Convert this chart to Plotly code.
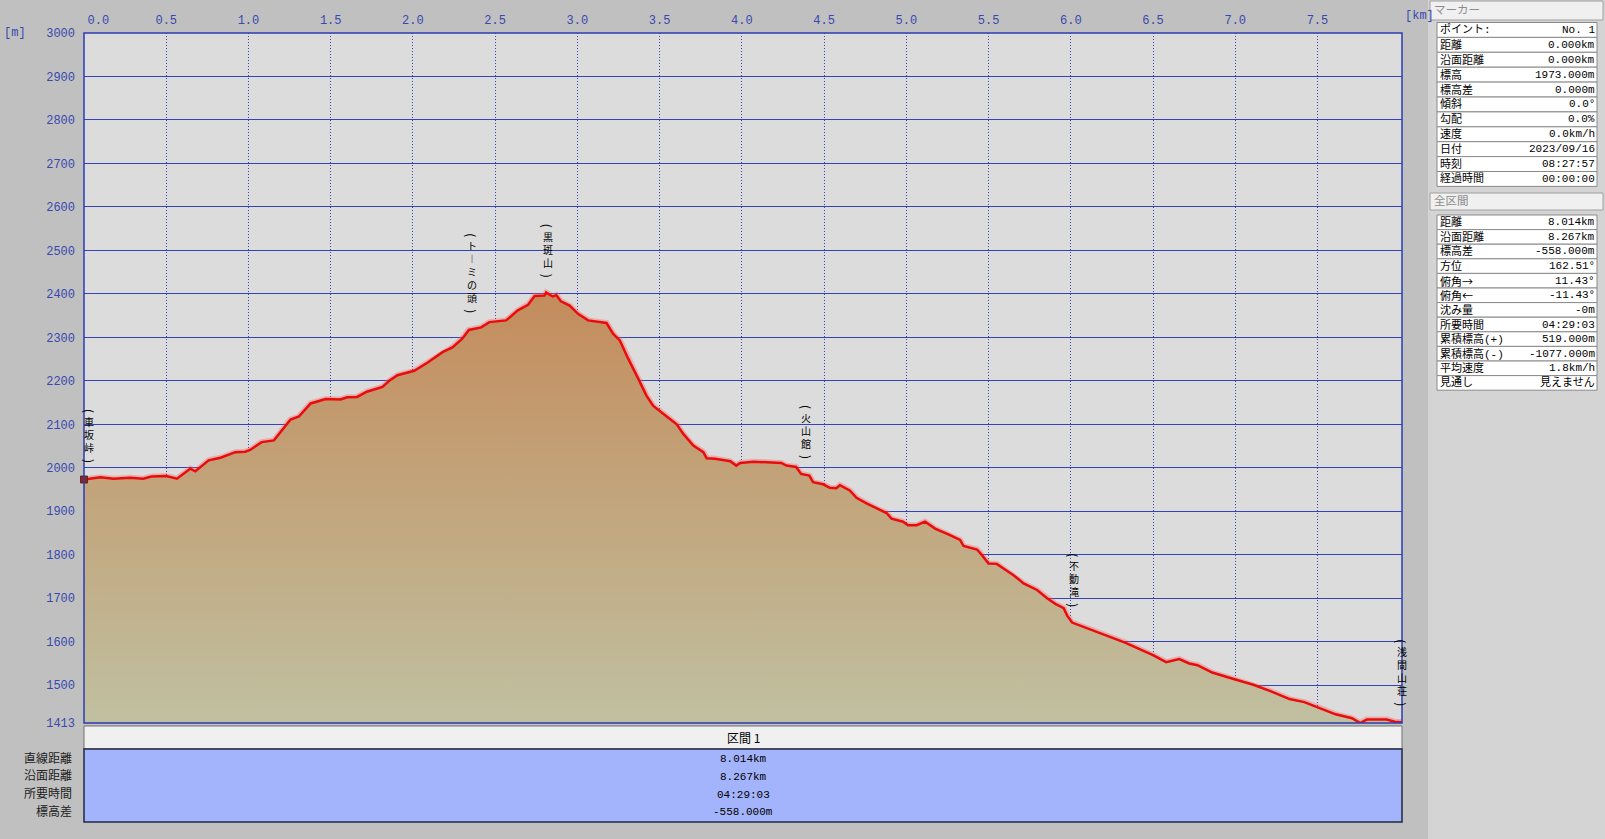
"""
Elevation profile chart (車坂峠 -> 浅間山荘) with the marker / section info panels.
"""

import plotly.graph_objects as go

# ---- data ----
dist_km = [
    0.0, 0.1, 0.18, 0.28, 0.36, 0.41, 0.5, 0.565, 0.646, 0.677, 0.758, 0.83, 0.92, 0.98,
    1.01, 1.08, 1.155, 1.256, 1.307, 1.378, 1.47, 1.56, 1.6, 1.66, 1.72, 1.815, 1.856,
    1.906, 2.008, 2.09, 2.18, 2.24, 2.30, 2.34, 2.415, 2.465, 2.567, 2.638, 2.70, 2.74,
    2.80, 2.81, 2.85, 2.872, 2.90, 2.953, 3.004, 3.065, 3.177, 3.218, 3.258, 3.309, 3.37,
    3.42, 3.46, 3.50, 3.543, 3.604, 3.644, 3.705, 3.766, 3.786, 3.837, 3.93, 3.966, 3.99,
    4.07, 4.24, 4.27, 4.33, 4.36, 4.41, 4.433, 4.494, 4.535, 4.575, 4.596, 4.656, 4.697,
    4.758, 4.82, 4.88, 4.91, 4.98, 5.01, 5.063, 5.114, 5.175, 5.266, 5.327, 5.348, 5.43,
    5.46, 5.50, 5.55, 5.652, 5.713, 5.795, 5.856, 5.906, 5.957, 5.978, 6.008, 6.08, 6.14,
    6.242, 6.33, 6.5, 6.58, 6.66, 6.72, 6.77, 6.86, 7.0, 7.11, 7.21, 7.33, 7.42, 7.52,
    7.61, 7.71, 7.76, 7.80, 7.92, 7.97, 8.014,
]
elev_m = [
    1973, 1978, 1975, 1977, 1975, 1980, 1981, 1975, 1998, 1992, 2017, 2023, 2036, 2037,
    2041, 2059, 2063, 2111, 2118, 2148, 2158, 2157, 2162, 2163, 2175, 2186, 2200,
    2213, 2223, 2242, 2266, 2277, 2297, 2317, 2323, 2335, 2339, 2362, 2375, 2395,
    2396, 2403, 2394, 2397, 2383, 2373, 2354, 2339, 2333, 2308, 2293, 2251, 2205,
    2166, 2143, 2130, 2118, 2100, 2078, 2051, 2036, 2022, 2021, 2015, 2005, 2011,
    2014, 2011, 2005, 2002, 1986, 1982, 1967, 1962, 1954, 1953, 1960, 1948, 1931,
    1918, 1906, 1896, 1883, 1876, 1868, 1868, 1876, 1860, 1845, 1834, 1820, 1812,
    1799, 1780, 1779, 1753, 1734, 1719, 1700, 1687, 1677, 1660, 1644, 1634, 1626,
    1612, 1598, 1569, 1553, 1560, 1550, 1546, 1529, 1513, 1501, 1487, 1468, 1461, 1447,
    1433, 1424, 1413, 1421, 1421, 1416, 1415,
]

waypoint_names = ["車坂峠", "トーミの頭", "黒斑山", "火山館", "不動滝", "浅間山荘"]
waypoint_km = [0.03, 2.36, 2.82, 4.39, 6.02, 8.014]

x_tick_vals = [0.0, 0.5, 1.0, 1.5, 2.0, 2.5, 3.0, 3.5, 4.0, 4.5, 5.0, 5.5, 6.0, 6.5, 7.0, 7.5]
y_tick_vals = [1413, 1500, 1600, 1700, 1800, 1900, 2000, 2100, 2200, 2300, 2400,
               2500, 2600, 2700, 2800, 2900, 3000]

section_title = "区間 1"
section_labels = ["直線距離", "沿面距離", "所要時間", "標高差"]
section_values = ["8.014km", "8.267km", "04:29:03", "-558.000m"]

marker_title = "マーカー"
marker_labels = ["ポイント:", "距離", "沿面距離", "標高", "標高差", "傾斜", "勾配",
                 "速度", "日付", "時刻", "経過時間"]
marker_values = ["No. 1", "0.000km", "0.000km", "1973.000m", "0.000m", "0.0°", "0.0%",
                 "0.0km/h", "2023/09/16", "08:27:57", "00:00:00"]

total_title = "全区間"
total_labels = ["距離", "沿面距離", "標高差", "方位", "俯角→", "俯角←", "沈み量",
                "所要時間", "累積標高(+)", "累積標高(-)", "平均速度", "見通し"]
total_values = ["8.014km", "8.267km", "-558.000m", "162.51°", "11.43°", "-11.43°", "-0m",
                "04:29:03", "519.000m", "-1077.000m", "1.8km/h", "見えません"]

# ---- geometry (pixels of the 1605x839 page) ----
W, H = 1605, 839
PL, PR, PT, PB = 84, 1402, 33, 723

JP = "Noto Sans CJK JP"
MONO = "Liberation Mono, Noto Sans CJK JP"
BLUE_TXT = "#3848b0"
GRID = "#3444b8"
LABEL_SIZE = 10


def px(x):
    return x / W


def py(y):
    return 1 - y / H


def interp(xs, ys, x):
    for i in range(1, len(xs)):
        if x <= xs[i]:
            t = (x - xs[i - 1]) / (xs[i] - xs[i - 1])
            return ys[i - 1] + t * (ys[i] - ys[i - 1])
    return ys[-1]


def wide_arrows(s):
    # arrows from the CJK font are full width, like the original panel
    for a in "→←":
        s = s.replace(a, f"<span style='font-family:{JP}'>{a}</span>")
    return s


fig = go.Figure()

# glow under the red line
fig.add_trace(go.Scatter(
    x=dist_km, y=elev_m, mode='lines',
    line=dict(color='rgba(255,90,90,0.35)', width=6),
    hoverinfo='skip', showlegend=False
))
fig.add_trace(go.Scatter(
    x=dist_km, y=elev_m, mode='lines',
    line=dict(color='#ea0c0c', width=2.5),
    fill='tozeroy',
    fillgradient=dict(type='vertical',
                      colorscale=[[0, '#c0c0a0'], [1, '#c48c5c']],
                      start=1413, stop=2400),
    hovertemplate='%{x:.3f}km<br>%{y:.0f}m<extra></extra>',
    showlegend=False
))
# hiker marker at the start point
fig.add_trace(go.Scatter(
    x=[dist_km[0]], y=[elev_m[0]], mode='markers',
    marker=dict(size=7, color='#9a1c1c', symbol='square', line=dict(color='#503020', width=1)),
    cliponaxis=False, hoverinfo='skip', showlegend=False
))

x_tick_text = [f"{v:.1f}" for v in x_tick_vals]
x_tick_text[0] = "\u00a0\u00a0\u00a0\u00a0" + x_tick_text[0]

shapes = []
annotations = []

# right panel background
shapes.append(dict(type='rect', xref='paper', yref='paper', x0=px(1428), x1=1, y0=0, y1=1,
                   fillcolor='#d4d4d4', line=dict(width=0), layer='below'))
# plot frame
shapes.append(dict(type='rect', xref='paper', yref='paper', x0=px(PL), x1=px(PR), y0=py(PB), y1=py(PT),
                   line=dict(color='#2c3cb0', width=1.5), fillcolor='rgba(0,0,0,0)'))

# axis unit labels
annotations.append(dict(text="[m]", x=px(2), y=py(33), xref='paper', yref='paper', xanchor='left',
                        yanchor='middle', showarrow=False, font=dict(family=MONO, size=12, color=BLUE_TXT)))
annotations.append(dict(text="[km]", x=px(1403), y=py(16), xref='paper', yref='paper', xanchor='left',
                        yanchor='middle', showarrow=False, font=dict(family=MONO, size=12, color=BLUE_TXT)))

# vertical waypoint labels: the name as one stacked block, rotated brackets above and below
for name, km in zip(waypoint_names, waypoint_km):
    base = interp(dist_km, elev_m, min(km, dist_km[-1]))
    chars = [("︱" if c == "ー" else c) for c in name]
    block_h = len(chars) * LABEL_SIZE * 1.3 + 2
    bottom = 15
    annotations.append(dict(
        text=")", x=km, y=base, xref='x', yref='y', showarrow=False, textangle=90,
        xanchor='center', yanchor='middle', yshift=bottom + 3, borderpad=0,
        font=dict(family=JP, size=12, color='black')
    ))
    annotations.append(dict(
        text="<br>".join(chars), x=km, y=base, xref='x', yref='y', showarrow=False,
        xanchor='center', yanchor='bottom', yshift=bottom + 8, borderpad=0,
        font=dict(family=JP, size=LABEL_SIZE, color='black')
    ))
    annotations.append(dict(
        text="(", x=km, y=base, xref='x', yref='y', showarrow=False, textangle=90,
        xanchor='center', yanchor='middle', yshift=bottom + 8 + block_h + 4, borderpad=0,
        font=dict(family=JP, size=12, color='black')
    ))

# section panel under the chart
shapes.append(dict(type='rect', xref='paper', yref='paper', x0=px(PL), x1=px(PR), y0=py(749), y1=py(726),
                   fillcolor='#f0f0f0', line=dict(color='#707070', width=1)))
shapes.append(dict(type='rect', xref='paper', yref='paper', x0=px(PL), x1=px(PR), y0=py(822), y1=py(749),
                   fillcolor='#a4b4fc', line=dict(color='#202840', width=1.5)))
annotations.append(dict(text=section_title, x=px((PL + PR) / 2), y=py(737.5), xref='paper', yref='paper',
                        yanchor='middle', showarrow=False, font=dict(family=JP, size=12, color='black')))
for i, (lab, val) in enumerate(zip(section_labels, section_values)):
    yy = 759 + i * 17.8
    annotations.append(dict(text=lab, x=px(74), y=py(yy), xref='paper', yref='paper', xanchor='right',
                            yanchor='middle', showarrow=False, font=dict(family=MONO, size=12, color='#202020')))
    annotations.append(dict(text=val, x=px((PL + PR) / 2), y=py(yy), xref='paper', yref='paper',
                            yanchor='middle', showarrow=False, font=dict(family=MONO, size=11, color='black')))


def info_table(title, labels, values, head_top, head_bot, top, row_h):
    shapes.append(dict(type='rect', xref='paper', yref='paper', x0=px(1430), x1=px(1603),
                       y0=py(head_bot), y1=py(head_top), fillcolor='#f0f0f0',
                       line=dict(color='#a0a0a0', width=1)))
    annotations.append(dict(text=title, x=px(1432), y=py((head_top + head_bot) / 2), xref='paper',
                            yref='paper', xanchor='left', yanchor='middle', showarrow=False,
                            font=dict(family=MONO, size=11.5, color='#8c8c8c')))
    for i, (lab, val) in enumerate(zip(labels, values)):
        y0 = top + i * row_h
        shapes.append(dict(type='rect', xref='paper', yref='paper', x0=px(1437), x1=px(1597),
                           y0=py(y0 + row_h), y1=py(y0), fillcolor='white',
                           line=dict(color='#8a8a8a', width=1), layer='below'))
        annotations.append(dict(text=wide_arrows(lab), x=px(1438), y=py(y0 + row_h / 2), xref='paper',
                                yref='paper', xanchor='left', yanchor='middle', showarrow=False,
                                font=dict(family=MONO, size=11, color='black')))
        annotations.append(dict(text=val, x=px(1597), y=py(y0 + row_h / 2), xref='paper', yref='paper',
                                xanchor='right', yanchor='middle', showarrow=False,
                                font=dict(family=MONO, size=11, color='black')))


info_table(marker_title, marker_labels, marker_values, 1, 20, 22.5, 14.9)
info_table(total_title, total_labels, total_values, 193, 210, 215, 14.6)

fig.update_layout(
    width=W, height=H, autosize=False,
    margin=dict(l=0, r=0, t=0, b=0, pad=0),
    paper_bgcolor='#c0c0c0',
    plot_bgcolor='#dcdcdc',
    xaxis=dict(
        domain=[px(PL), px(PR)], range=[0, 8.014], side='top', automargin=False,
        tickvals=x_tick_vals, ticktext=x_tick_text, ticks='', ticklabelstandoff=6,
        showgrid=True, gridcolor=GRID, gridwidth=1, griddash='1px,2px',
        zeroline=False, showline=False,
        tickfont=dict(family=MONO, size=12, color=BLUE_TXT)
    ),
    yaxis=dict(
        domain=[py(PB), py(PT)], range=[1413, 3000], automargin=False,
        tickvals=y_tick_vals, ticks='', ticklabelstandoff=8,
        showgrid=True, gridcolor=GRID, gridwidth=1,
        zeroline=False, showline=False,
        tickfont=dict(family=MONO, size=12, color=BLUE_TXT)
    ),
    shapes=shapes,
    annotations=annotations,
    showlegend=False,
    hovermode='closest'
)

fig.write_html("out.html", config={'displayModeBar': False},
               post_script="document.body.style.margin='0';")
